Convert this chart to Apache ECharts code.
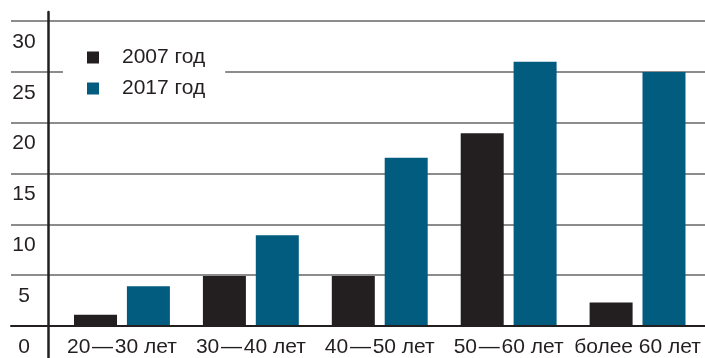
<!DOCTYPE html>
<html>
<head>
<meta charset="utf-8">
<script src="https://cdn.jsdelivr.net/npm/echarts@6/dist/echarts.min.js"></script>
<style>
  html, body { margin: 0; padding: 0; background: #fff; }
  #chart { width: 705px; height: 358px; }
</style>
</head>
<body>
<div id="chart"></div>
<script>
// Age groups and the share in each group, 2007 vs 2017
const categories = ['20\u200a\u2014\u200a30 лет', '30\u200a\u2014\u200a40 лет', '40\u200a\u2014\u200a50 лет', '50\u200a\u2014\u200a60 лет', 'более 60 лет'];
const values2007 = [1.2, 5, 5, 19, 2.4];
const values2017 = [4, 9, 16.6, 26, 25];
const seriesNames = ['2007 год', '2017 год'];
const yMin = 0;
const yMax = 30;
const yStep = 5;

const FONT = "'Liberation Sans', Arial, sans-serif";
const INK = '#231f20';
const BLUE = '#015c80';

const chart = echarts.init(document.getElementById('chart'), null, { renderer: 'canvas' });

chart.setOption({
  animation: false,
  backgroundColor: '#fff',
  textStyle: { fontFamily: FONT, color: INK },
  grid: [
    // full-width grid: horizontal rules, value labels and baseline
    { left: 11, right: 0, top: 21, bottom: 26 },
    // bars
    { left: 57.5, right: 3, top: 21, bottom: 26 },
    // tall vertical axis line
    { left: 48, right: 0, top: 12, bottom: 0 }
  ],
  legend: {
    orient: 'vertical',
    left: 63,
    top: 34,
    padding: [13, 20, 13, 24],
    backgroundColor: '#fff',
    itemGap: 10,
    itemWidth: 12,
    itemHeight: 12,
    icon: 'rect',
    data: seriesNames,
    textStyle: {
      fontFamily: FONT,
      fontSize: 21,
      lineHeight: 21,
      color: INK,
      padding: [0, 0, 0, 18]
    }
  },
  xAxis: [
    {
      gridIndex: 0,
      type: 'category',
      data: categories,
      z: 5,
      axisLine: { show: true, lineStyle: { color: INK, width: 2 } },
      axisTick: { show: false },
      axisLabel: { show: false },
      splitLine: { show: false }
    },
    {
      gridIndex: 1,
      type: 'category',
      data: categories,
      axisLine: { show: false },
      axisTick: { show: false },
      splitLine: { show: false },
      axisLabel: {
        show: true,
        interval: 0,
        margin: 10,
        fontFamily: FONT,
        fontSize: 21,
        lineHeight: 21,
        color: INK
      }
    },
    {
      gridIndex: 2,
      type: 'value',
      show: false
    }
  ],
  yAxis: [
    {
      gridIndex: 0,
      type: 'value',
      min: yMin,
      max: yMax,
      interval: yStep,
      axisLine: { show: false },
      axisTick: { show: false },
      splitLine: { show: true, lineStyle: { color: '#666', width: 1.5 } },
      axisLabel: {
        show: true,
        inside: true,
        margin: 13,
        align: 'center',
        verticalAlign: 'top',
        padding: [10, 0, 0, 0],
        lineHeight: 22,
        fontFamily: FONT,
        fontSize: 21,
        color: INK
      }
    },
    {
      gridIndex: 1,
      type: 'value',
      min: yMin,
      max: yMax,
      interval: yStep,
      axisLine: { show: false },
      axisTick: { show: false },
      axisLabel: { show: false },
      splitLine: { show: false }
    },
    {
      gridIndex: 2,
      type: 'value',
      min: 0,
      max: 1,
      z: 5,
      axisLine: { show: true, lineStyle: { color: INK, width: 2.5 } },
      axisTick: { show: false },
      axisLabel: { show: false },
      splitLine: { show: false }
    }
  ],
  series: [
    {
      name: seriesNames[0],
      type: 'bar',
      xAxisIndex: 1,
      yAxisIndex: 1,
      data: values2007,
      barWidth: 43,
      barGap: '23%',
      itemStyle: { color: INK }
    },
    {
      name: seriesNames[1],
      type: 'bar',
      xAxisIndex: 1,
      yAxisIndex: 1,
      data: values2017,
      barWidth: 43,
      barGap: '23%',
      itemStyle: { color: BLUE }
    }
  ]
});
</script>
</body>
</html>
